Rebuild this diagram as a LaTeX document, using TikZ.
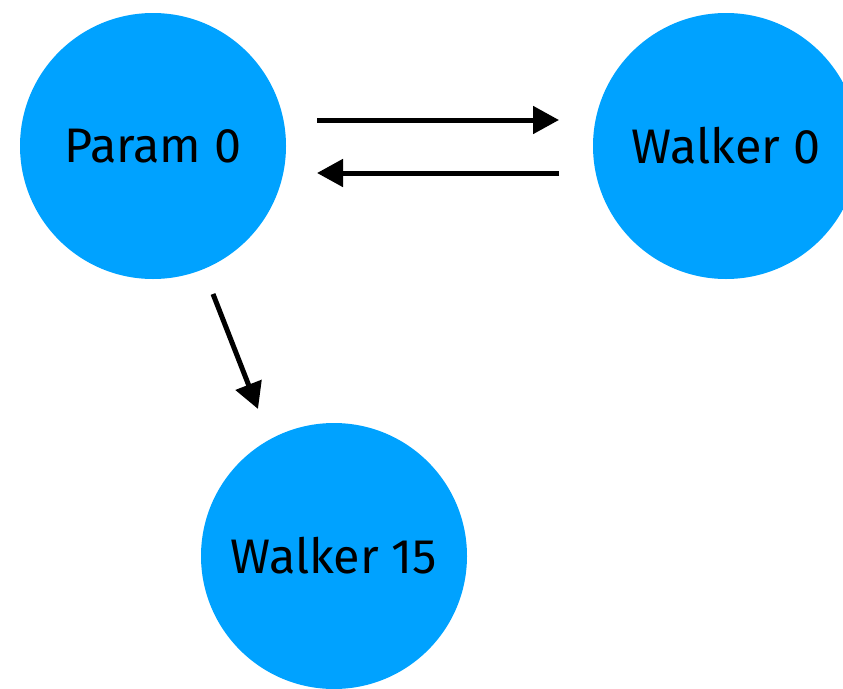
\documentclass[tikz,border=0pt]{standalone}
\usepackage{fontspec}
\setmainfont{Fira Sans}
\usetikzlibrary{arrows.meta}
\definecolor{nodeblue}{HTML}{00A2FF}
\begin{document}
\begin{tikzpicture}[x=1pt,y=-1pt,
  state/.style={circle,fill=nodeblue,draw=none,minimum size=266pt,inner sep=0pt,font=\fontsize{48.5}{52}\selectfont,text=black},
  link/.style={line width=5pt,-{Triangle[length=26pt,width=27pt]}}]
\useasboundingbox (0,0) rectangle (843,688);
\node[state] (param) at (153,146) {Param 0};
\node[state] (w0) at (726,146) {Walker 0};
\node[state] (w15) at (334,556) {Walker 15};
\coordinate (a1s) at (317,120); \coordinate (a1e) at (559,120);
\coordinate (a2s) at (559,173); \coordinate (a2e) at (317,173);
\coordinate (a3s) at (213,294); \coordinate (a3e) at (258,409);
\draw[link] (a1s) -- (a1e);
\draw[link] (a2s) -- (a2e);
\draw[link] (a3s) -- (a3e);
\end{tikzpicture}
\end{document}
